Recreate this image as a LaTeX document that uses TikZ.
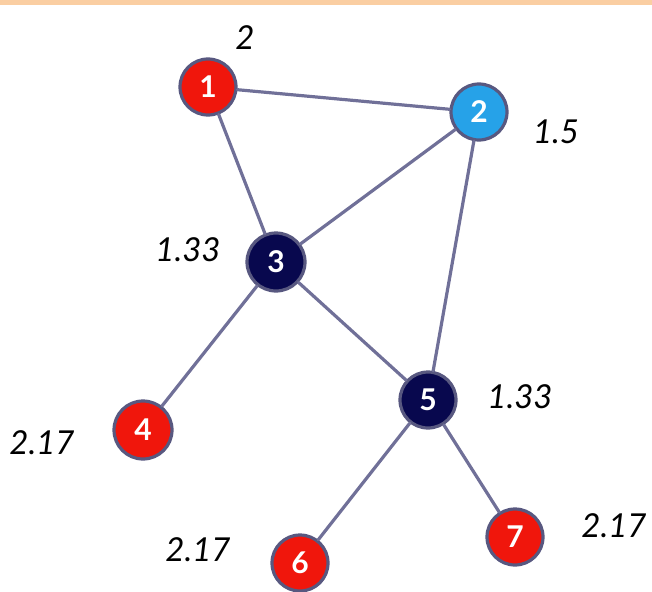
\documentclass[tikz,border=0pt]{standalone}
\usepackage{fontspec}
\setmainfont{Lato}
\definecolor{nodered}{RGB}{240,22,12}
\definecolor{nodeblue}{RGB}{38,162,232}
\definecolor{nodenavy}{RGB}{8,8,78}
\definecolor{rimgray}{RGB}{88,88,128}
\definecolor{edgegray}{RGB}{112,112,152}
\definecolor{barorange}{RGB}{250,206,162}
\begin{document}
\begin{tikzpicture}[x=1pt, y=-1pt, line join=round, line cap=round,
    vert/.style={circle, draw=rimgray, line width=3.2pt, minimum size=56pt, inner sep=0pt, text=white, font=\fontsize{30}{30}\selectfont\bfseries},
    rednode/.style={vert, fill=nodered},
    bluenode/.style={vert, fill=nodeblue},
    navynode/.style={vert, fill=nodenavy},
    edge/.style={draw=edgegray, line width=3.2pt},
    score/.style={font=\fontsize{33}{33}\selectfont\itshape}]
    \useasboundingbox (0,0) rectangle (652,591);
    \fill[barorange] (0,0) rectangle (652,5);
    % vertices
    \node[rednode] (v1) at (208,87) {1};
    \node[bluenode] (v2) at (479,112) {2};
    \node[navynode, minimum size=58pt] (v3) at (276,262) {3};
    \node[rednode, minimum size=58pt] (v4) at (143,430) {4};
    \node[navynode] (v5) at (428,400) {5};
    \node[rednode] (v6) at (300,563) {6};
    \node[rednode] (v7) at (515,537) {7};
    % edges
    \foreach \a/\b in {v1/v2,v1/v3,v2/v3,v2/v5,v3/v4,v3/v5,v5/v6,v5/v7}
    \draw[edge] (\a) -- (\b);
    % closeness values
    \node[score] (s1) at (245,38) {2};
    \node[score] (s2) at (556,132) {1.5};
    \node[score] (s3) at (188,250) {1.33};
    \node[score] (s4) at (42,443) {2.17};
    \node[score] (s5) at (520,397) {1.33};
    \node[score] (s6) at (198,550) {2.17};
    \node[score] (s7) at (614,526) {2.17};
\end{tikzpicture}
\end{document}
